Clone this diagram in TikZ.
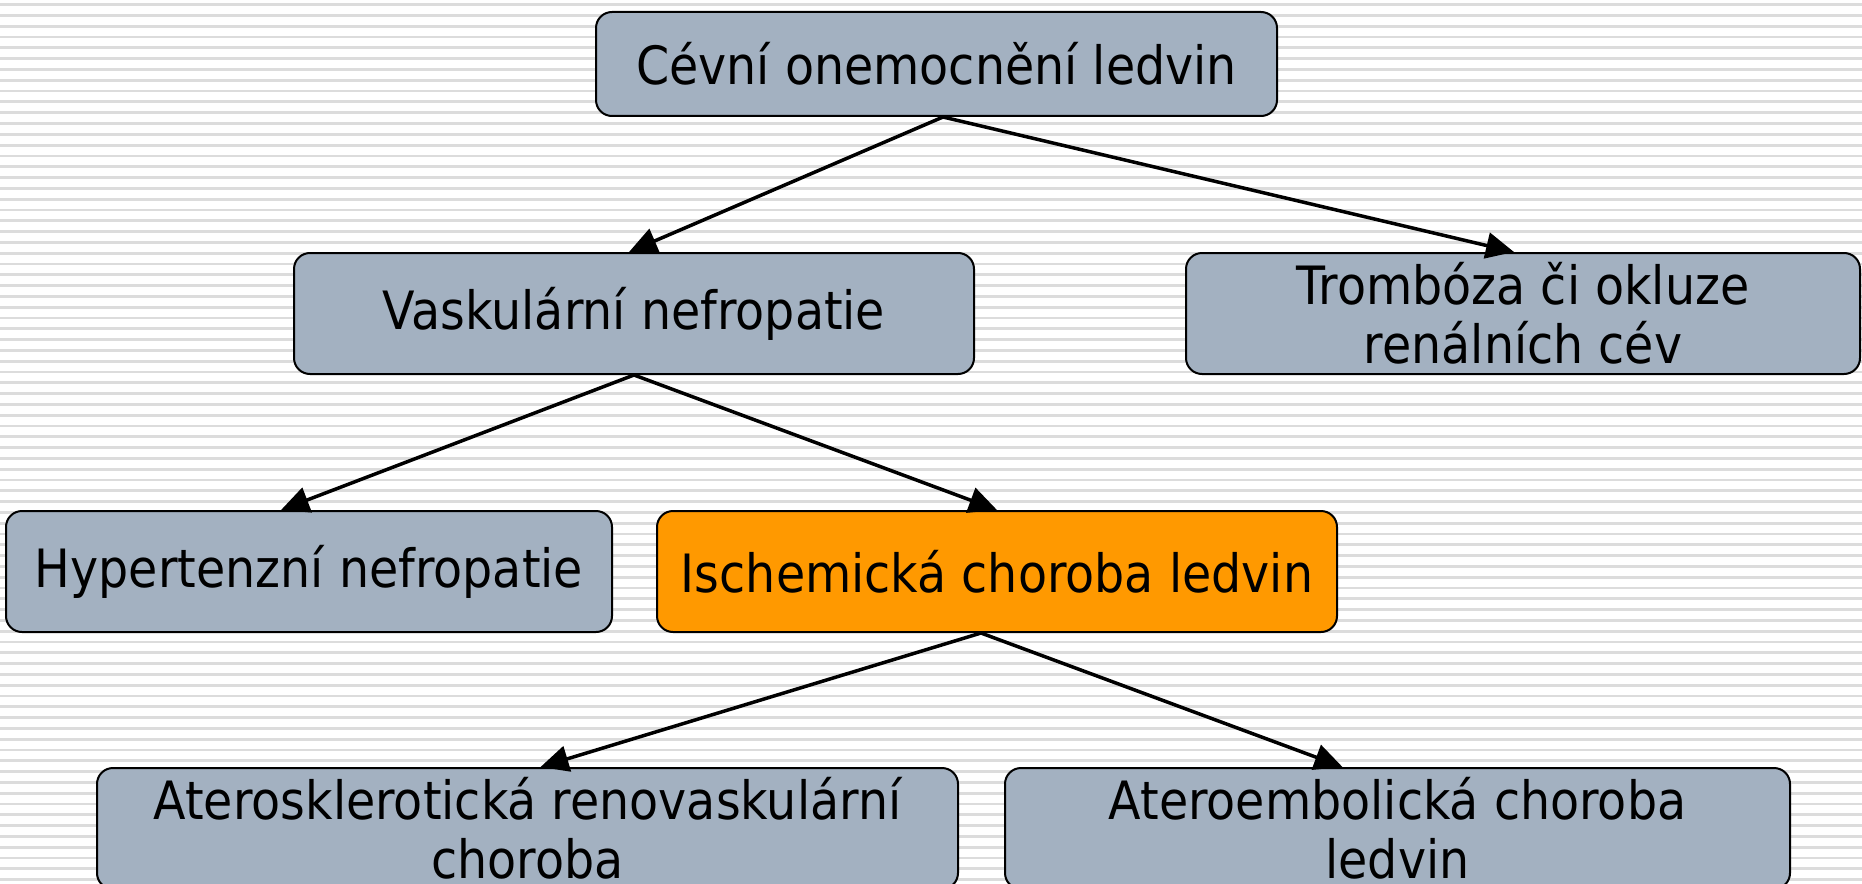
\documentclass[tikz,border=0pt]{standalone}
\usepackage{fontspec}
\setmainfont{DejaVu Sans}[FakeStretch=0.9]
\usetikzlibrary{arrows.meta}
\definecolor{boxblue}{HTML}{A3B1C1}
\definecolor{boxorange}{HTML}{FF9900}
\definecolor{stripe}{HTML}{DCDCDC}
\begin{document}
\begin{tikzpicture}[x=0.5pt,y=-0.5pt,
  box/.style={draw=black, line width=1pt, rounded corners=8pt, fill=boxblue,
    align=center, inner sep=0pt, minimum height=60.5pt,
    font=\fontsize{26.4pt}{29.7pt}\selectfont},
  conn/.style={line width=1.75pt, -{Triangle[length=14pt,width=13pt]}}]
\useasboundingbox (0,0) rectangle (1862,883);
\begin{scope}
\clip (0,0) rectangle (1862,883);
\foreach \i in {0,...,81}
  \draw[stripe, line width=1.4pt] (0,{4.7+10.8*\i}) -- (1862,{4.7+10.8*\i});
\node[box, minimum width=340.5pt, minimum height=52pt] (top) at (936.5,64) {Cévní onemocnění ledvin};
\node[box, minimum width=340pt] (vask) at (634,313.5) {Vaskulární nefropatie};
\node[box, minimum width=337pt] (tromb) at (1523,313.5) {Trombóza či okluze\\renálních cév};
\node[box, minimum width=303pt] (hyp) at (309,571.5) {Hypertenzní nefropatie};
\node[box, minimum width=340pt, fill=boxorange] (isch) at (997,571.5) {Ischemická choroba ledvin};
\node[box, minimum width=430.5pt] (skl) at (527.5,828.5) {Aterosklerotická renovaskulární\\choroba};
\node[box, minimum width=392.5pt] (emb) at (1397.5,828.5) {Ateroembolická choroba\\ledvin};
\draw[conn] ([xshift=3.25pt]top.south) -- ([xshift=-2.5pt]vask.north);
\draw[conn] ([xshift=3.25pt]top.south) -- ([xshift=-4.5pt]tromb.north);
\draw[conn] (vask.south) -- ([xshift=-14pt]hyp.north);
\draw[conn] (vask.south) -- (isch.north);
\draw[conn] ([xshift=-8pt]isch.south) -- ([xshift=6.5pt]skl.north);
\draw[conn] ([xshift=-8pt]isch.south) -- ([xshift=-27.5pt]emb.north);
\end{scope}
\end{tikzpicture}
\end{document}
